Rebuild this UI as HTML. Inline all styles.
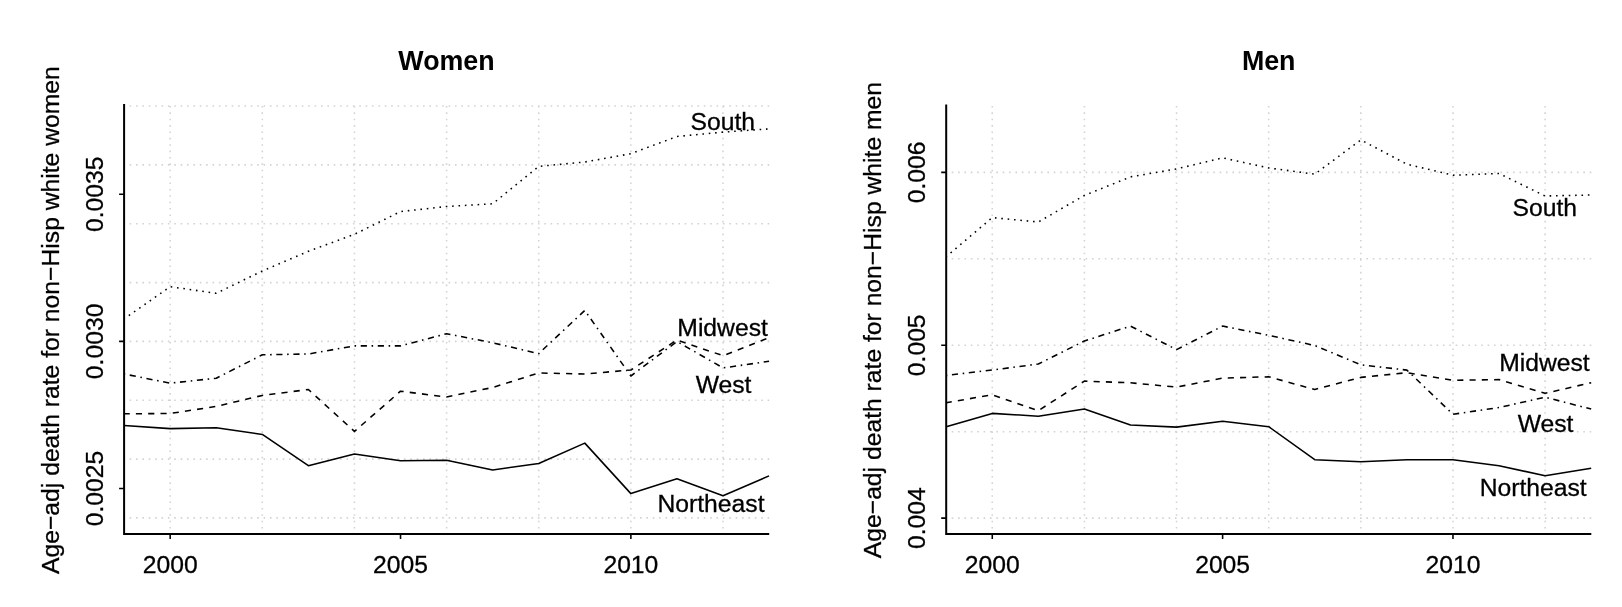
<!DOCTYPE html><html><head><meta charset="utf-8"><style>html,body{margin:0;padding:0;background:#fff;}svg{display:block;will-change:transform;}text{font-family:"Liberation Sans",sans-serif;}text.r{stroke:#000;stroke-width:0.3px;}</style></head><body>
<svg width="1622" height="607" viewBox="0 0 1622 607">
<rect width="1622" height="607" fill="#fff"/>
<path d="M170.17 535V104M262.31 535V104M354.45 535V104M446.59 535V104M538.73 535V104M630.87 535V104M723.01 535V104M123.2 106H769.2M123.2 164.9H769.2M123.2 223.7H769.2M123.2 282.6H769.2M123.2 341.4H769.2M123.2 400.2H769.2M123.2 459.1H769.2M123.2 517.9H769.2" fill="none" stroke="#d3d3d3" stroke-width="1.5625" stroke-dasharray="1.595 4.785" stroke-linecap="butt"/>
<polyline points="124.1,318.9 170.17,286.7 216.24,293.3 262.31,271 308.38,251.3 354.45,234.3 400.52,211.6 446.59,206.5 492.66,203.8 538.73,166.4 584.8,162 630.87,153.7 676.94,136.5 723.01,132.1 769.08,128.9" fill="none" stroke="#000" stroke-width="1.5625" stroke-linecap="butt" stroke-linejoin="round" stroke-dasharray="1.594 4.782" stroke-dashoffset="0.65"/>
<polyline points="124.1,374 170.17,383.2 216.24,378.2 262.31,354.8 308.38,354 354.45,345.9 400.52,345.9 446.59,333.7 492.66,342.8 538.73,353.6 584.8,310.4 630.87,376 676.94,341.5 723.01,367.9 769.08,361.3" fill="none" stroke="#000" stroke-width="1.5625" stroke-linecap="butt" stroke-linejoin="round" stroke-dasharray="1.548 4.644 6.192 4.644" stroke-dashoffset="0.45"/>
<polyline points="124.1,413.8 170.17,413.5 216.24,406.4 262.31,395.4 308.38,389.5 354.45,431.4 400.52,391.2 446.59,397 492.66,387.5 538.73,373 584.8,374 630.87,370 676.94,340 723.01,355.7 769.08,337.6" fill="none" stroke="#000" stroke-width="1.5625" stroke-linecap="butt" stroke-linejoin="round" stroke-dasharray="6.148 6.148" stroke-dashoffset="0.5"/>
<polyline points="124.1,425.5 170.17,428.6 216.24,427.8 262.31,434.4 308.38,465.7 354.45,454.1 400.52,460.7 446.59,460.2 492.66,469.9 538.73,463.5 584.8,443.1 630.87,493.6 676.94,478.8 723.01,495.8 769.08,475.9" fill="none" stroke="#000" stroke-width="1.5625" stroke-linecap="butt" stroke-linejoin="round"/>
<path d="M124.1 104V534H769.2" fill="none" stroke="#000" stroke-width="2" stroke-linecap="butt"/>
<path d="M170.17 534v5M400.52 534v5M630.87 534v5M124.1 194.3h-5M124.1 341.4h-5M124.1 488.5h-5" fill="none" stroke="#000" stroke-width="1.5625"/>
<text x="170.17" y="573" class="r" font-size="24.7" text-anchor="middle">2000</text>
<text x="400.52" y="573" class="r" font-size="24.7" text-anchor="middle">2005</text>
<text x="630.87" y="573" class="r" font-size="24.7" text-anchor="middle">2010</text>
<text transform="translate(102.6,194.3) rotate(-90)" class="r" font-size="24.7" text-anchor="middle">0.0035</text>
<text transform="translate(102.6,341.4) rotate(-90)" class="r" font-size="24.7" text-anchor="middle">0.0030</text>
<text transform="translate(102.6,488.5) rotate(-90)" class="r" font-size="24.7" text-anchor="middle">0.0025</text>
<text transform="translate(59,320.1) rotate(-90)" class="r" font-size="24.7" text-anchor="middle">Age−adj death rate for non−Hisp white women</text>
<text x="722.85" y="129.6" class="r" font-size="24.7" text-anchor="middle">South</text>
<text x="722.6" y="335.5" class="r" font-size="24.7" text-anchor="middle">Midwest</text>
<text x="723.6" y="393" class="r" font-size="24.7" text-anchor="middle">West</text>
<text x="711" y="511.7" class="r" font-size="24.7" text-anchor="middle">Northeast</text>
<text x="446.5" y="69.8" font-size="26.8" font-weight="bold" text-anchor="middle">Women</text>
<path d="M992.27 535V104.5M1084.41 535V104.5M1176.55 535V104.5M1268.69 535V104.5M1360.83 535V104.5M1452.97 535V104.5M1545.11 535V104.5M945.3 172.4H1591.3M945.3 258.8H1591.3M945.3 345.3H1591.3M945.3 431.7H1591.3M945.3 518.1H1591.3" fill="none" stroke="#d3d3d3" stroke-width="1.5625" stroke-dasharray="1.595 4.785" stroke-linecap="butt"/>
<polyline points="946.2,256.7 992.27,217.6 1038.34,222 1084.41,195.4 1130.48,176.9 1176.55,168.9 1222.62,157.9 1268.69,167.9 1314.76,174.2 1360.83,139.9 1406.9,164.2 1452.97,175.2 1499.04,173.5 1545.11,196 1591.18,195" fill="none" stroke="#000" stroke-width="1.5625" stroke-linecap="butt" stroke-linejoin="round" stroke-dasharray="1.594 4.782" stroke-dashoffset="0.65"/>
<polyline points="946.2,375.5 992.27,370 1038.34,364 1084.41,341 1130.48,326.1 1176.55,349.6 1222.62,326.1 1268.69,335.3 1314.76,345.5 1360.83,364.8 1406.9,370.1 1452.97,414.3 1499.04,407.5 1545.11,397.2 1591.18,409.1" fill="none" stroke="#000" stroke-width="1.5625" stroke-linecap="butt" stroke-linejoin="round" stroke-dasharray="1.548 4.644 6.192 4.644" stroke-dashoffset="0.45"/>
<polyline points="946.2,402.7 992.27,394.8 1038.34,410.6 1084.41,381.1 1130.48,382.8 1176.55,387.1 1222.62,378.1 1268.69,376.8 1314.76,389.5 1360.83,377.4 1406.9,372.7 1452.97,380.3 1499.04,379.6 1545.11,393.3 1591.18,382.7" fill="none" stroke="#000" stroke-width="1.5625" stroke-linecap="butt" stroke-linejoin="round" stroke-dasharray="6.148 6.148" stroke-dashoffset="0.5"/>
<polyline points="946.2,426.7 992.27,413.4 1038.34,416.2 1084.41,408.9 1130.48,425 1176.55,427.1 1222.62,421.3 1268.69,426.7 1314.76,459.7 1360.83,461.8 1406.9,459.7 1452.97,459.7 1499.04,465.7 1545.11,475.8 1591.18,468.2" fill="none" stroke="#000" stroke-width="1.5625" stroke-linecap="butt" stroke-linejoin="round"/>
<path d="M946.2 104.5V534H1591.3" fill="none" stroke="#000" stroke-width="2" stroke-linecap="butt"/>
<path d="M992.27 534v5M1222.62 534v5M1452.97 534v5M946.2 172.4h-5M946.2 345.3h-5M946.2 518.1h-5" fill="none" stroke="#000" stroke-width="1.5625"/>
<text x="992.27" y="573" class="r" font-size="24.7" text-anchor="middle">2000</text>
<text x="1222.62" y="573" class="r" font-size="24.7" text-anchor="middle">2005</text>
<text x="1452.97" y="573" class="r" font-size="24.7" text-anchor="middle">2010</text>
<text transform="translate(924.7,172.4) rotate(-90)" class="r" font-size="24.7" text-anchor="middle">0.006</text>
<text transform="translate(924.7,345.3) rotate(-90)" class="r" font-size="24.7" text-anchor="middle">0.005</text>
<text transform="translate(924.7,518.1) rotate(-90)" class="r" font-size="24.7" text-anchor="middle">0.004</text>
<text transform="translate(881,320.1) rotate(-90)" class="r" font-size="24.7" text-anchor="middle">Age−adj death rate for non−Hisp white men</text>
<text x="1544.75" y="215.9" class="r" font-size="24.7" text-anchor="middle">South</text>
<text x="1544.4" y="371" class="r" font-size="24.7" text-anchor="middle">Midwest</text>
<text x="1545.55" y="431.7" class="r" font-size="24.7" text-anchor="middle">West</text>
<text x="1533.2" y="495.8" class="r" font-size="24.7" text-anchor="middle">Northeast</text>
<text x="1268.7" y="69.8" font-size="26.8" font-weight="bold" text-anchor="middle">Men</text>
</svg></body></html>
